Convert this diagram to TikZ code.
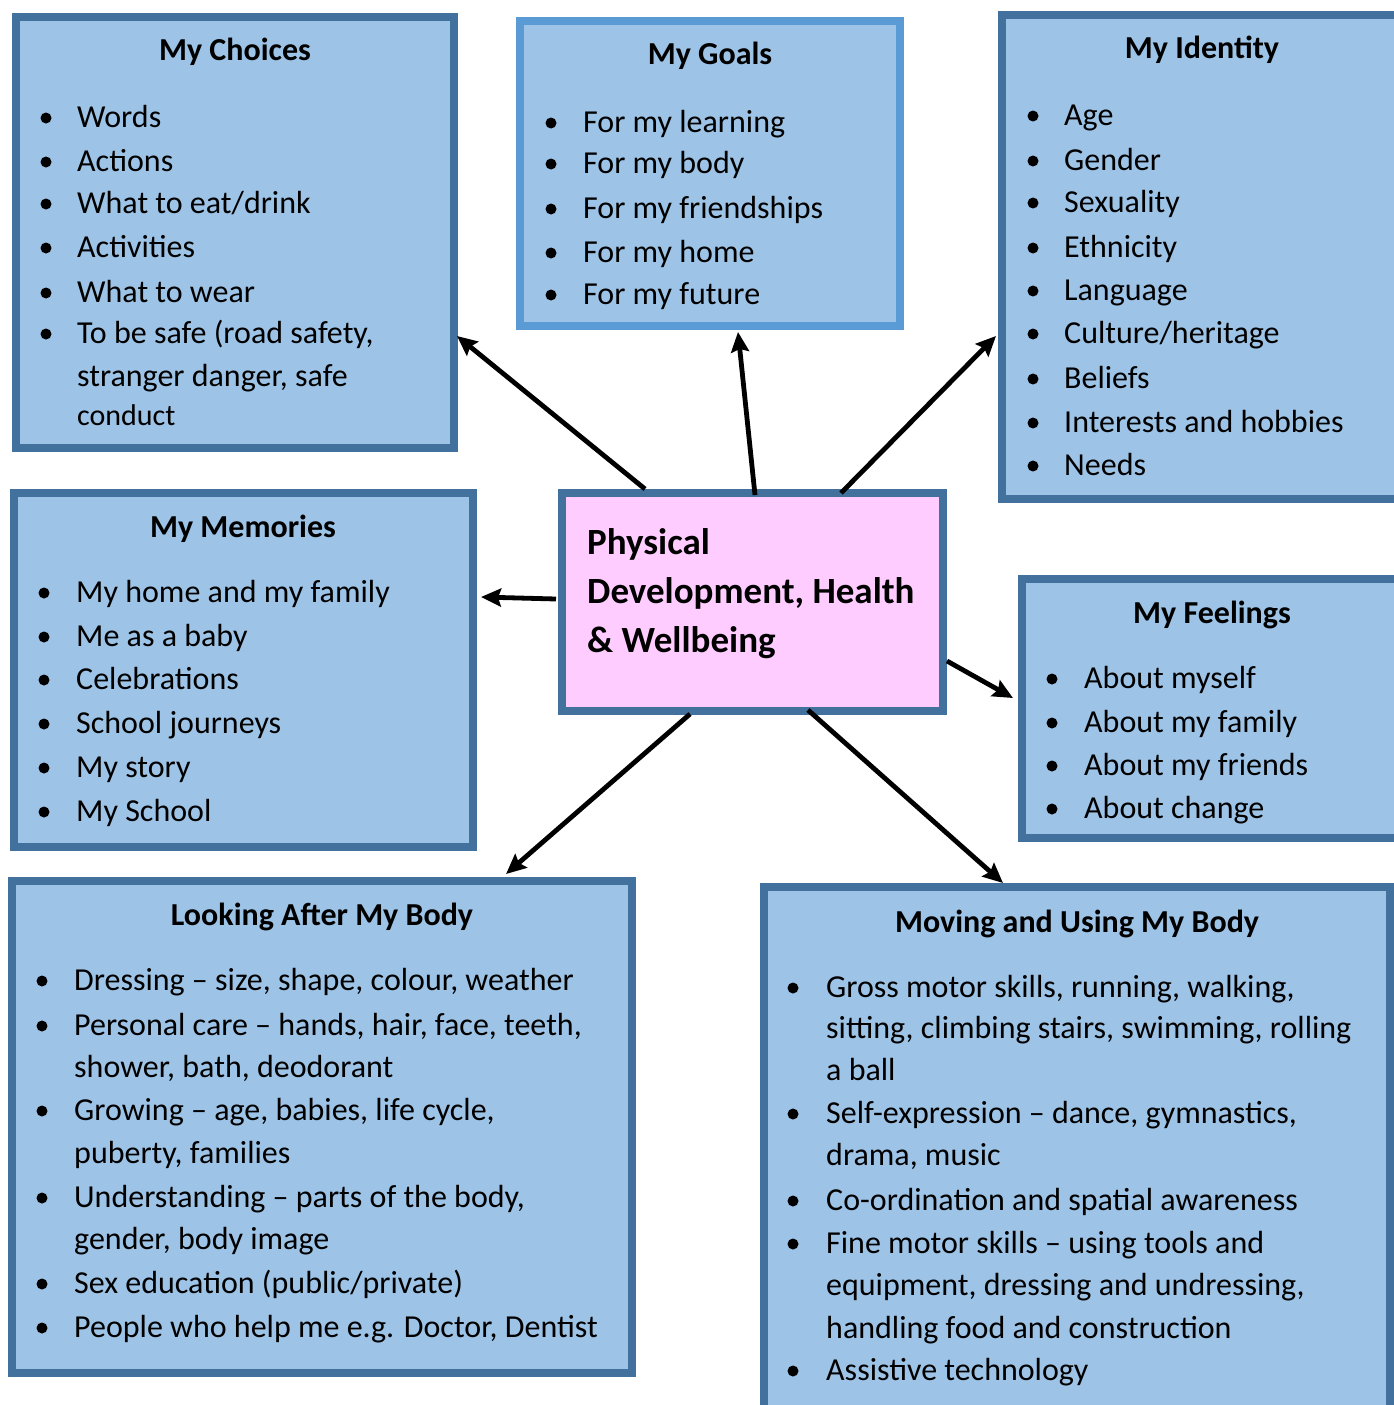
\documentclass[tikz,border=0pt]{standalone}
\usepackage{fontspec}
\setmainfont{Carlito}
\usetikzlibrary{arrows.meta,calc}
\definecolor{boxfill}{HTML}{9DC3E6}
\definecolor{boxline}{HTML}{41719C}
\definecolor{goalline}{HTML}{5B9BD5}
\definecolor{hubfill}{HTML}{FFCCFF}
% bullet dot centred just above the baseline, and one line of list text
\newcommand\bul[2]{\fill (#1,#2-9) circle[radius=5.5pt];}
\newcommand\itm[4]{\node[itemtxt] (#1) at (#2,#3) {#4};}
\begin{document}
\begin{tikzpicture}[x=1pt,y=-1pt,
  panel/.style={rectangle, draw=boxline, fill=boxfill, line width=8pt, inner sep=0pt},
  hubbox/.style={panel, fill=hubfill},
  ttl/.style={font=\fontsize{32}{38}\selectfont\bfseries, anchor=base, inner sep=0pt},
  itemtxt/.style={font=\fontsize{32}{38}\selectfont, anchor=base west, inner sep=0pt},
  hubtxt/.style={font=\fontsize{37}{44}\selectfont\bfseries, anchor=base west, inner sep=0pt},
  arr/.style={line width=4.8pt, -{Stealth[length=20pt,width=18pt,inset=3pt]}}]
\useasboundingbox (0,0) rectangle (1394,1405);

% panels
\node[panel, minimum width=438pt, minimum height=431pt] (choices) at (235,232.5) {};
\node[panel, draw=goalline, minimum width=380pt, minimum height=305pt] (goals) at (710,173.5) {};
\node[panel, minimum width=400pt, minimum height=484pt] (identity) at (1202,257) {};
\node[panel, minimum width=459pt, minimum height=354pt] (memories) at (243.5,670) {};
\node[hubbox, minimum width=381pt, minimum height=218pt] (hub) at (752.5,602) {};
\node[panel, minimum width=380pt, minimum height=259pt] (feelings) at (1212,708.5) {};
\node[panel, minimum width=620pt, minimum height=492pt] (looking) at (322,1127) {};
\node[panel, minimum width=626pt, minimum height=553pt] (moving) at (1077,1163.5) {};

% My Choices
\node[ttl] (choicesT) at (235,61) {My Choices};
\bul{46}{127}\itm{ch1}{77}{127}{Words}
\bul{46}{171}\itm{ch2}{77}{171}{Actions}
\bul{46}{213}\itm{ch3}{77}{213}{What to eat/drink}
\bul{46}{257}\itm{ch4}{77}{257}{Activities}
\bul{46}{302}\itm{ch5}{77}{302}{What to wear}
\bul{46}{343}\itm{ch6}{77}{343}{To be safe (road safety,}
\itm{ch7}{77}{386}{stranger danger, safe}
\node[itemtxt, font=\fontsize{30}{36}\selectfont] (ch8) at (77,425) {conduct};

% My Goals
\node[ttl] (goalsT) at (710,64) {My Goals};
\bul{551}{132}\itm{go1}{583}{132}{For my learning}
\bul{551}{173}\itm{go2}{583}{173}{For my body}
\bul{551}{218}\itm{go3}{583}{218}{For my friendships}
\bul{551}{262}\itm{go4}{583}{262}{For my home}
\bul{551}{304}\itm{go5}{583}{304}{For my future}

% My Identity
\node[ttl] (identityT) at (1202,59) {My Identity};
\bul{1033}{125}\itm{id1}{1064}{125}{Age}
\bul{1033}{170}\itm{id2}{1064}{170}{Gender}
\bul{1033}{212}\itm{id3}{1064}{212}{Sexuality}
\bul{1033}{257}\itm{id4}{1064}{257}{Ethnicity}
\bul{1033}{300}\itm{id5}{1064}{300}{Language}
\bul{1033}{343}\itm{id6}{1064}{343}{Culture/heritage}
\bul{1033}{388}\itm{id7}{1064}{388}{Beliefs}
\bul{1033}{432}\itm{id8}{1064}{432}{Interests and hobbies}
\bul{1033}{475}\itm{id9}{1064}{475}{Needs}

% My Memories
\node[ttl] (memoriesT) at (243,537) {My Memories};
\bul{44}{602}\itm{me1}{76}{602}{My home and my family}
\bul{44}{646}\itm{me2}{76}{646}{Me as a baby}
\bul{44}{689}\itm{me3}{76}{689}{Celebrations}
\bul{44}{733}\itm{me4}{76}{733}{School journeys}
\bul{44}{777}\itm{me5}{76}{777}{My story}
\bul{44}{821}\itm{me6}{76}{821}{My School}

% central heading
\node[hubtxt] (hub1) at (587,554) {Physical};
\node[hubtxt] (hub2) at (587,603) {Development, Health};
\node[hubtxt] (hub3) at (587,652) {\& Wellbeing};

% My Feelings
\node[ttl] (feelingsT) at (1212,623) {My Feelings};
\bul{1052}{688}\itm{fe1}{1084}{688}{About myself}
\bul{1052}{732}\itm{fe2}{1084}{732}{About my family}
\bul{1052}{775}\itm{fe3}{1084}{775}{About my friends}
\bul{1052}{818}\itm{fe4}{1084}{818}{About change}

% Looking After My Body
\node[ttl] (lookingT) at (322,925) {Looking After My Body};
\bul{42}{990}\itm{lo1}{74}{990}{Dressing – size, shape, colour, weather}
\bul{42}{1035}\itm{lo2}{74}{1035}{Personal care – hands, hair, face, teeth,}
\itm{lo3}{74}{1077}{shower, bath, deodorant}
\bul{42}{1120}\itm{lo4}{74}{1120}{Growing – age, babies, life cycle,}
\itm{lo5}{74}{1163}{puberty, families}
\bul{42}{1207}\itm{lo6}{74}{1207}{Understanding – parts of the body,}
\itm{lo7}{74}{1249}{gender, body image}
\bul{42}{1293}\itm{lo8}{74}{1293}{Sex education (public/private)}
\bul{42}{1337}\itm{lo9}{74}{1337}{People who help me e.g. Doctor, Dentist}

% Moving and Using My Body
\node[ttl] (movingT) at (1077,932) {Moving and Using My Body};
\bul{793}{997}\itm{mo1}{826}{997}{Gross motor skills, running, walking,}
\itm{mo2}{826}{1038}{sitting, climbing stairs, swimming, rolling}
\itm{mo3}{826}{1080}{a ball}
\bul{793}{1123}\itm{mo4}{826}{1123}{Self-expression – dance, gymnastics,}
\itm{mo5}{826}{1165}{drama, music}
\bul{793}{1210}\itm{mo6}{826}{1210}{Co-ordination and spatial awareness}
\bul{793}{1253}\itm{mo7}{826}{1253}{Fine motor skills – using tools and}
\itm{mo8}{826}{1295}{equipment, dressing and undressing,}
\itm{mo9}{826}{1338}{handling food and construction}
\bul{793}{1380}\itm{mo10}{826}{1380}{Assistive technology}

% connectors from the central box
\draw[arr] ($(hub.north west)+(87,0)$) -- ($(choices.south east)+(-1,-116)$);
\draw[arr] ($(hub.north west)+(197,6)$) -- ($(goals.south west)+(222,2)$);
\draw[arr] ($(hub.north west)+(283,4)$) -- ($(identity.south west)+(-2,-167)$);
\draw[arr] ($(hub.north west)+(-2,110)$) -- ($(memories.north east)+(4,108)$);
\draw[arr] ($(hub.north east)+(0,172)$) -- ($(feelings.north west)+(-5,123)$);
\draw[arr] ($(hub.south west)+(132,-1)$) -- ($(looking.north west)+(498,-3)$);
\draw[arr] ($(hub.south west)+(250,-5)$) -- ($(moving.north west)+(243,0)$);
\end{tikzpicture}
\end{document}
